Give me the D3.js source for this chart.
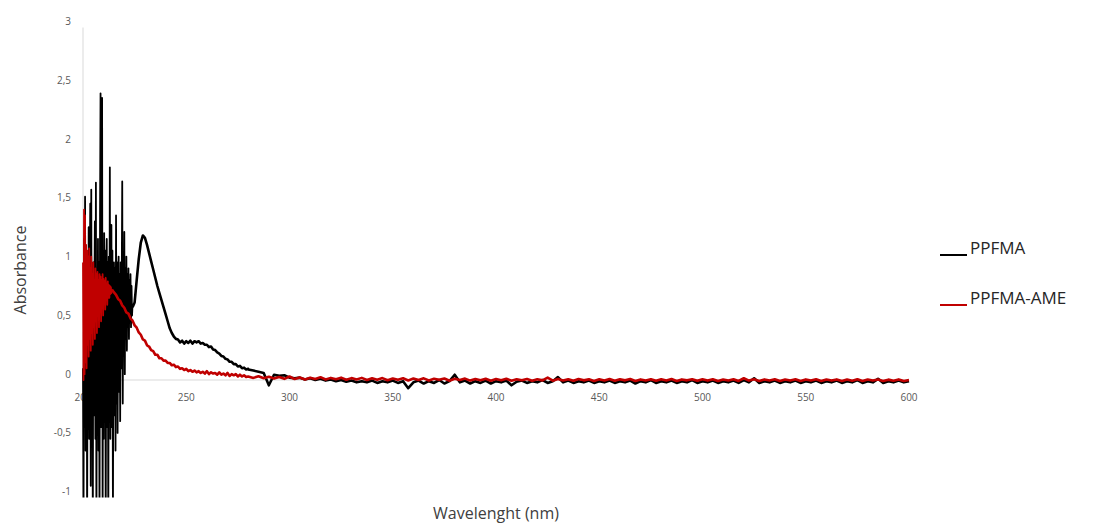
<!DOCTYPE html>
<html lang="en">
<head>
    <meta charset="UTF-8">
    <title>Absorbance spectra</title>
    <script src="https://d3js.org/d3.v7.min.js"></script>
    <style>
        body { margin: 0; background: #fff; }
        .tick-label { font-family: "Open Sans", sans-serif; font-size: 10px; fill: #595959; }
        .axis-title { font-family: "Open Sans", sans-serif; font-size: 16px; fill: #404040; }
        .legend-label { font-family: "Open Sans", sans-serif; font-size: 17px; fill: #262626; }
    </style>
</head>
<body>
    <div id="chart"></div>

    <script>
    // x ticks (nm) and y ticks (absorbance)
    const xTicks = [200, 250, 300, 350, 400, 450, 500, 550, 600];
    const yTicks = [-1, -0.5, 0, 0.5, 1, 1.5, 2, 2.5, 3];

    // PPFMA: noisy start 200-224 nm every 0.25 nm
    const ppfmaNoise = [
        0.10, -1.30, 1.20, -0.40, 1.56, -0.60, 0.40, 1.10,
        -1.30, 0.80, -0.30, 1.30, -0.50, 0.60, 1.50, -0.90,
        1.62, -0.40, 0.90, -1.30, 1.00, -0.30, 0.70, 1.35,
        -0.50, 1.68, -1.30, 0.80, -0.30, 1.20, -0.60, 1.00,
        -1.30, 1.40, 2.44, -0.40, 0.60, 2.40, -1.20, 1.10,
        -0.50, 1.25, 0.20, 1.10, -1.30, 0.90, 1.20, -0.40,
        1.00, -1.30, 1.05, -0.20, 1.81, -0.50, 0.80, 1.32,
        -0.40, 1.10, -1.20, 0.90, 1.00, -0.30, 0.95, -0.60,
        1.40, -0.20, 1.00, -0.45, 0.85, 1.05, -0.10, 0.90,
        -0.35, 1.00, 0.10, 0.80, 1.69, -0.20, 0.90, 0.30,
        1.26, 0.05, 0.95, 0.35, 1.05, 0.25, 0.90, 0.45,
        0.95, 0.35, 0.85, 0.50, 0.90, 0.45, 0.80, 0.55,
        0.65
    ];
    // 224-280 nm every 1 nm
    const ppfmaBand = [
        0.62, 0.66, 0.85, 1.03, 1.17, 1.23, 1.21, 1.15, 1.08, 1.01,
        0.94, 0.87, 0.80, 0.74, 0.68, 0.62, 0.56, 0.50, 0.44, 0.40,
        0.37, 0.35, 0.345, 0.32, 0.335, 0.31, 0.33, 0.315, 0.335, 0.31,
        0.33, 0.32, 0.33, 0.31, 0.315, 0.30, 0.30, 0.28, 0.285, 0.26,
        0.255, 0.235, 0.225, 0.205, 0.20, 0.18, 0.175, 0.155, 0.155, 0.135,
        0.135, 0.115, 0.12, 0.10, 0.105, 0.09, 0.095
    ];
    // 280-600 nm every 2.5 nm
    const ppfmaTail = [
        0.09, 0.08, 0.07, 0.06, -0.045, 0.045, 0.035, 0.04, 0.02, 0.015,
        0.02, 0.005, 0.015, 0.0, 0.01, -0.005, 0.005, -0.01, 0.0, -0.015,
        -0.005, -0.02, -0.01, -0.02, -0.005, -0.025, -0.01, -0.02, -0.005, -0.025,
        -0.01, -0.07, -0.02, -0.005, -0.03, -0.01, -0.025, 0.0, -0.03, -0.01,
        0.045, -0.02, -0.005, -0.03, -0.01, -0.025, -0.005, -0.03, -0.01, -0.02,
        -0.005, -0.045, -0.015, -0.005, -0.025, -0.01, -0.02, 0.0, -0.025, -0.01,
        0.025, -0.02, -0.005, -0.025, -0.01, -0.02, -0.005, -0.025, -0.01, -0.02,
        -0.005, -0.025, -0.01, -0.02, -0.005, -0.03, -0.01, -0.02, 0.0, -0.025,
        -0.01, -0.02, -0.005, -0.025, -0.01, -0.02, 0.0, -0.025, -0.01, -0.02,
        -0.005, -0.025, -0.01, -0.02, -0.005, -0.025, 0.0, -0.02, 0.015, -0.025,
        -0.01, -0.02, -0.005, -0.025, -0.01, -0.02, -0.005, -0.025, -0.01, -0.02,
        -0.005, -0.025, -0.01, -0.02, -0.005, -0.025, -0.01, -0.02, 0.0, -0.025,
        -0.01, -0.02, 0.01, -0.025, -0.01, -0.02, -0.005, -0.02, -0.01
    ];

    // PPFMA-AME: noisy start 200-214 nm every 0.25 nm
    const ameNoise = [
        1.00, 0.00, 1.45, 0.05, 1.40, 0.15, 1.15, 0.10,
        1.10, 0.30, 1.05, 0.20, 1.12, 0.35, 0.95, 0.25,
        1.05, 0.40, 0.90, 0.30, 1.00, 0.45, 0.85, 0.35,
        0.95, 0.50, 0.90, 0.40, 0.92, 0.55, 0.85, 0.45,
        0.90, 0.60, 0.88, 0.50, 0.85, 0.62, 0.90, 0.55,
        0.86, 0.65, 0.84, 0.60, 0.87, 0.68, 0.82, 0.64,
        0.84, 0.70, 0.81, 0.70, 0.80, 0.73, 0.79, 0.74,
        0.77
    ];
    // 214-280 nm every 1 nm
    const ameBand = [
        0.77, 0.745, 0.725, 0.69, 0.675, 0.635, 0.615, 0.575, 0.565, 0.525,
        0.505, 0.465, 0.445, 0.405, 0.385, 0.345, 0.335, 0.295, 0.285, 0.255,
        0.245, 0.215, 0.215, 0.185, 0.185, 0.165, 0.165, 0.145, 0.145, 0.125,
        0.13, 0.11, 0.115, 0.095, 0.10, 0.085, 0.095, 0.075, 0.085, 0.07,
        0.08, 0.065, 0.075, 0.06, 0.07, 0.055, 0.075, 0.05, 0.065, 0.055,
        0.06, 0.045, 0.065, 0.045, 0.055, 0.04, 0.06, 0.035, 0.05, 0.04,
        0.05, 0.03, 0.045, 0.03, 0.04, 0.025, 0.03
    ];
    // 280-600 nm every 2.5 nm
    const ameTail = [
        0.030, 0.018, 0.032, 0.015, 0.028, 0.012, 0.026, 0.010, 0.030, 0.008,
        0.022, 0.005, 0.020, 0.008, 0.024, 0.004, 0.018, 0.006, 0.020, 0.002,
        0.016, 0.004, 0.018, 0.000, 0.014, 0.003, 0.016, -0.002, 0.012, 0.002,
        0.015, -0.004, 0.012, 0.000, 0.014, -0.004, 0.010, 0.002, 0.013, -0.006,
        0.010, 0.000, 0.012, -0.005, 0.009, -0.002, 0.011, -0.006, 0.008, -0.003,
        0.010, -0.006, 0.007, -0.002, 0.009, -0.007, 0.006, -0.003, 0.020, -0.006,
        0.008, -0.004, 0.007, -0.007, 0.009, -0.003, 0.006, -0.008, 0.007, -0.004,
        0.008, -0.007, 0.006, -0.003, 0.008, -0.008, 0.005, -0.004, 0.007, -0.007,
        0.006, -0.004, 0.008, -0.008, 0.005, -0.003, 0.007, -0.007, 0.006, -0.005,
        0.007, -0.008, 0.004, -0.004, 0.006, -0.008, 0.015, -0.005, 0.006, -0.008,
        0.005, -0.004, 0.006, -0.009, 0.004, -0.005, 0.006, -0.008, 0.005, -0.005,
        0.006, -0.009, 0.004, -0.005, 0.005, -0.008, 0.004, -0.006, 0.006, -0.009,
        0.004, -0.005, 0.005, -0.009, 0.003, -0.006, 0.005, -0.008, 0.000
    ];

    const seriesNames = ["PPFMA", "PPFMA-AME"];
    const seriesColors = ["#000000", "#c00000"];

    // turn a sampled segment into {wl, abs} points
    function segment(start, step, values) {
        return values.map((v, i) => ({ wl: start + i * step, abs: v }));
    }

    // each series: the noisy start (drawn thinner) and the rest of the scan
    const series = [
        {
            noise: segment(200, 0.25, ppfmaNoise),
            rest: [].concat(segment(224, 1, ppfmaBand), segment(280, 2.5, ppfmaTail))
        },
        {
            noise: segment(200, 0.25, ameNoise),
            rest: [].concat(segment(214, 1, ameBand), segment(280, 2.5, ameTail))
        }
    ];

    const width = 1096;
    const height = 527;
    const plot = { left: 83, right: 909, top: 27.5, bottom: 497.5 };

    const svg = d3.select("#chart").append("svg")
        .attr("width", width)
        .attr("height", height);

    const x = d3.scaleLinear().domain([200, 600]).range([plot.left, plot.right]);
    const y = d3.scaleLinear().domain([-1, 3]).range([plot.bottom, plot.top]);

    svg.append("clipPath").attr("id", "plot-clip")
        .append("rect")
        .attr("x", plot.left - 2)
        .attr("y", plot.top)
        .attr("width", plot.right - plot.left + 4)
        .attr("height", plot.bottom - plot.top);

    // axis lines
    svg.append("line")
        .attr("x1", plot.left).attr("x2", plot.left)
        .attr("y1", plot.top).attr("y2", plot.bottom)
        .attr("stroke", "#d9d9d9").attr("stroke-width", 1);
    svg.append("line")
        .attr("x1", plot.left).attr("x2", plot.right)
        .attr("y1", y(0)).attr("y2", y(0))
        .attr("stroke", "#d9d9d9").attr("stroke-width", 1);

    // tick labels (decimal comma)
    const fmt = v => String(v).replace(".", ",");
    svg.append("g").selectAll("text")
        .data(yTicks)
        .enter().append("text")
        .attr("class", "tick-label")
        .attr("x", 71)
        .attr("y", d => y(d) - 6)
        .attr("dy", "0.35em")
        .attr("text-anchor", "end")
        .text(fmt);

    svg.append("g").selectAll("text")
        .data(xTicks)
        .enter().append("text")
        .attr("class", "tick-label")
        .attr("x", d => x(d))
        .attr("y", y(0) + 17)
        .attr("dy", "0.35em")
        .attr("text-anchor", "middle")
        .text(d => d);

    // axis titles
    svg.append("text")
        .attr("class", "axis-title")
        .attr("transform", "translate(26,270) rotate(-90)")
        .attr("text-anchor", "middle")
        .text("Absorbance");
    svg.append("text")
        .attr("class", "axis-title")
        .attr("x", 496)
        .attr("y", 519)
        .attr("text-anchor", "middle")
        .text("Wavelenght (nm)");

    // spectra, PPFMA first so PPFMA-AME sits on top
    const line = d3.line()
        .x(d => x(d.wl))
        .y(d => y(d.abs));

    const lines = svg.append("g").attr("clip-path", "url(#plot-clip)");
    series.forEach((s, i) => {
        lines.append("path")
            .datum(s.noise)
            .attr("d", line)
            .attr("fill", "none")
            .attr("stroke", seriesColors[i])
            .attr("stroke-width", 1.8)
            .attr("stroke-linejoin", "round");
        lines.append("path")
            .datum(s.rest)
            .attr("d", line)
            .attr("fill", "none")
            .attr("stroke", seriesColors[i])
            .attr("stroke-width", 2.6)
            .attr("stroke-linejoin", "round");
    });

    // legend
    const legend = svg.append("g").selectAll("g")
        .data(seriesNames)
        .enter().append("g")
        .attr("transform", (d, i) => `translate(940,${255 + i * 50})`);
    legend.append("line")
        .attr("x1", 0).attr("x2", 27)
        .attr("y1", 0).attr("y2", 0)
        .attr("stroke", (d, i) => seriesColors[i])
        .attr("stroke-width", 2);
    legend.append("text")
        .attr("class", "legend-label")
        .attr("x", 30)
        .attr("y", -1)
        .text(d => d);
    </script>
</body>
</html>
